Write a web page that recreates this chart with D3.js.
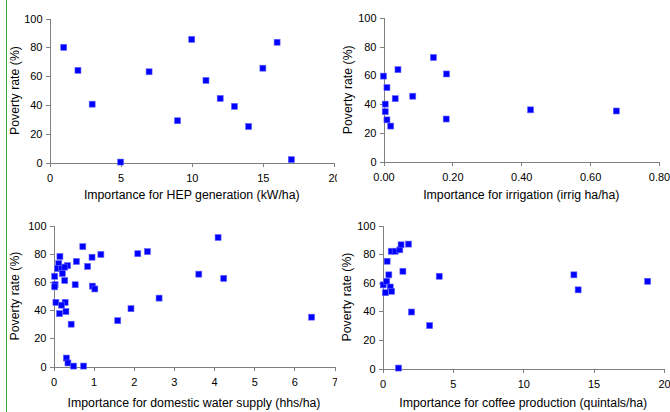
<!DOCTYPE html>
<html><head><meta charset="utf-8">
<script src="https://cdn.jsdelivr.net/npm/d3@7"></script>
<style>
html,body{margin:0;padding:0;background:#fff;}
svg text{font-family:"Liberation Sans",Arial,sans-serif;font-size:11px;fill:#000;}
svg text.ttl{font-size:12.3px;}
</style></head>
<body>
<svg id="c" width="670" height="412"></svg>
<script>
// ---- data ----
const yLabel = "Poverty rate (%)";
const yTicks = [0, 20, 40, 60, 80, 100];

const hepTitle = "Importance for HEP generation (kW/ha)";
const hepTicks = [0, 5, 10, 15, 20];
const hepX = [1, 2, 3, 5, 7, 9, 10, 11, 12, 13, 14, 15, 16, 17];
const hepY = [80, 64, 40.5, 0.3, 63, 29, 85.5, 57, 44.5, 39, 25, 65.5, 83.5, 2];

const irrTitle = "Importance for irrigation (irrig ha/ha)";
const irrTicks = [0, 0.2, 0.4, 0.6, 0.8];
const irrX = [0.0, 0.01, 0.005, 0.005, 0.01, 0.021, 0.034, 0.042, 0.085, 0.145, 0.183, 0.182, 0.427, 0.676];
const irrY = [59.5, 51.5, 40, 34.7, 29, 24.7, 43.8, 64, 45.5, 72.5, 61, 29.6, 36, 35.2];

const domTitle = "Importance for domestic water supply (hhs/ha)";
const domTicks = [0, 1, 2, 3, 4, 5, 6, 7];
const domX = [0.73, 0.16, 0.96, 1.18, 0.57, 0.85, 0.13, 0.35, 0.10, 0.20, 0.28, 0.22, 0.03, 0.28, 0.54, 0.04, 0.03, 0.97, 1.03,
              0.06, 0.29, 0.20, 0.31, 0.15, 0.44, 1.60, 0.32, 0.36, 0.50, 0.75, 1.93, 2.10, 2.34, 2.63, 3.62, 4.10, 4.24, 6.43];
const domY = [85, 78, 77.5, 79.5, 74.5, 71, 73, 71.5, 69.5, 69.5, 70.5, 66, 64, 61, 58, 58, 56.5, 57, 55,
              45.5, 45.5, 43.5, 39, 37.5, 30, 32.5, 6, 2.5, 0.3, 0.3, 41, 80, 81.5, 48.5, 65.5, 91.5, 62.5, 35];

const cofTitle = "Importance for coffee production (quintals/ha)";
const cofTicks = [0, 5, 10, 15, 20];
const cofX = [0.05, 0.2, 0.3, 0.45, 0.55, 0.65, 0.33, 0.62, 0.9, 1.23, 1.32, 1.85, 1.45, 2.06, 3.35, 4.03, 13.6, 13.9, 18.84, 1.14];
const cofY = [58.5, 53, 61, 65.5, 57, 54, 75, 82, 82, 83, 86.5, 87, 68, 39.5, 30, 64.5, 65.5, 55, 61, 0.3];

// ---- layout ----
const panels = [
  {xs: hepX, ys: hepY, dom: [0, 20], ticks: hepTicks, fmt: d3.format("d"), title: hepTitle,
   clip: [0, 0, 337, 206], xr: [49.5, 334], yr: [162.5, 18.5], yTitleX: 19, titleY: 199},
  {xs: irrX, ys: irrY, dom: [0, 0.8], ticks: irrTicks, fmt: d3.format(".2f"), title: irrTitle,
   clip: [337, 0, 333, 206], xr: [383.5, 659], yr: [161.5, 18], yTitleX: 352, titleY: 199},
  {xs: domX, ys: domY, dom: [0, 7], ticks: domTicks, fmt: d3.format("d"), title: domTitle,
   clip: [0, 206, 337, 206], xr: [53.5, 334.5], yr: [366.5, 225.5], yTitleX: 19, titleY: 407},
  {xs: cofX, ys: cofY, dom: [0, 20], ticks: cofTicks, fmt: d3.format("d"), title: cofTitle,
   clip: [337, 206, 333, 206], xr: [382.5, 664], yr: [368.5, 225.5], yTitleX: 351, titleY: 407}
];

const svg = d3.select("#c");
const defs = svg.append("defs");
const axisColor = "#808080";
const ms = 6;

panels.forEach((p, i) => {
  defs.append("clipPath").attr("id", "cp" + i).append("rect")
    .attr("x", p.clip[0]).attr("y", p.clip[1]).attr("width", p.clip[2]).attr("height", p.clip[3]);
  const g = svg.append("g").attr("clip-path", `url(#cp${i})`);
  g.append("rect").attr("x", p.clip[0]).attr("y", p.clip[1]).attr("width", p.clip[2]).attr("height", p.clip[3]).attr("fill", "#fff");

  const x = d3.scaleLinear().domain(p.dom).range(p.xr);
  const y = d3.scaleLinear().domain([0, 100]).range(p.yr);

  const xa = g.append("g").attr("transform", `translate(0,${p.yr[0]})`)
    .call(d3.axisBottom(x).tickValues(p.ticks).tickFormat(p.fmt).tickSize(4).tickSizeOuter(4).tickPadding(8));
  const ya = g.append("g").attr("transform", `translate(${p.xr[0]},0)`)
    .call(d3.axisLeft(y).tickValues(yTicks).tickSize(4).tickSizeOuter(4).tickPadding(3));
  [xa, ya].forEach(a => {
    a.attr("font-size", null).attr("font-family", null);
    a.selectAll("path, line").attr("stroke", axisColor).attr("shape-rendering", "crispEdges");
    a.selectAll("text").attr("fill", "#000");
  });

  g.append("text").attr("class", "ttl").attr("x", (p.xr[0] + p.xr[1]) / 2).attr("y", p.titleY)
    .attr("text-anchor", "middle").text(p.title);
  g.append("text").attr("class", "ttl").attr("transform", `translate(${p.yTitleX},${(p.yr[0] + p.yr[1]) / 2}) rotate(-90)`)
    .attr("text-anchor", "middle").text(yLabel);

  const pts = p.xs.map((v, k) => [v, p.ys[k]]);
  g.selectAll("rect.m").data(pts).enter().append("rect").attr("class", "m")
    .attr("x", d => x(d[0]) - ms / 2).attr("y", d => y(d[1]) - ms / 2)
    .attr("width", ms).attr("height", ms).attr("fill", "#0000ff")
    .attr("stroke", "#6666ff").attr("stroke-width", 0.6);
});

svg.append("line").attr("x1", 6.5).attr("x2", 6.5).attr("y1", 0).attr("y2", 412)
  .attr("stroke", "#3aa23a").attr("stroke-width", 1);
</script>
</body></html>
